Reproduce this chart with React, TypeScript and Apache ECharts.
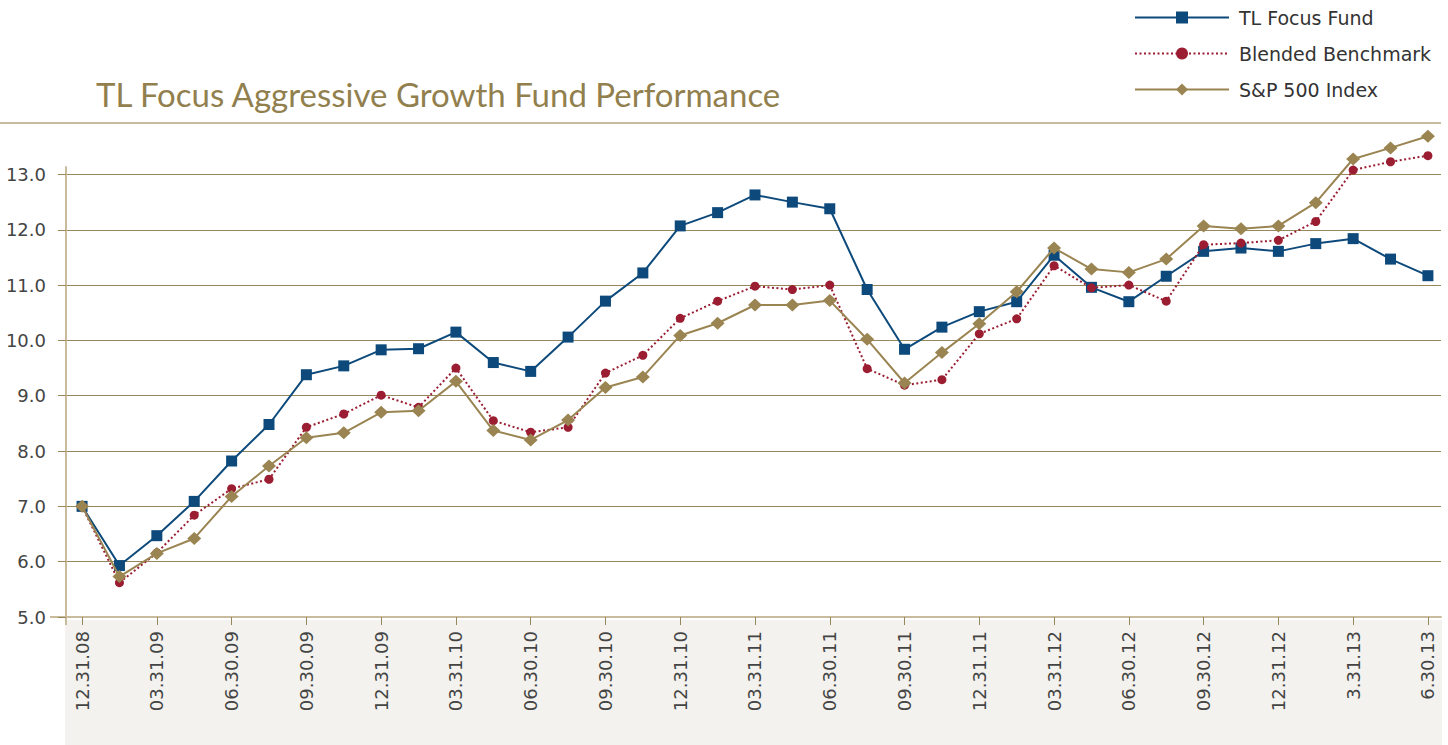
import React, { useEffect, useRef } from "react";
import * as echarts from "echarts";

const tickLabels = [
  "12.31.08", "03.31.09", "06.30.09", "09.30.09", "12.31.09", "03.31.10",
  "06.30.10", "09.30.10", "12.31.10", "03.31.11", "06.30.11", "09.30.11",
  "12.31.11", "03.31.12", "06.30.12", "09.30.12", "12.31.12", "3.31.13", "6.30.13",
];

const tlFocusFund = [
  7.0, 5.93, 6.47, 7.09, 7.82, 8.48, 9.38, 9.54, 9.83, 9.85, 10.15, 9.6, 9.44,
  10.06, 10.71, 11.22, 12.07, 12.31, 12.63, 12.5, 12.38, 10.92, 9.84, 10.24,
  10.52, 10.7, 11.54, 10.96, 10.7, 11.16, 11.61, 11.67, 11.61, 11.75, 11.84,
  11.47, 11.17,
];

const blendedBenchmark = [
  7.0, 5.62, 6.16, 6.84, 7.32, 7.49, 8.43, 8.67, 9.01, 8.79, 9.5, 8.55, 8.34,
  8.43, 9.41, 9.73, 10.4, 10.71, 10.98, 10.92, 11.0, 9.49, 9.19, 9.29, 10.12,
  10.39, 11.35, 10.95, 11.0, 10.71, 11.73, 11.76, 11.81, 12.15, 13.08, 13.23,
  13.34,
];

const sp500Index = [
  7.0, 5.73, 6.15, 6.42, 7.18, 7.73, 8.24, 8.33, 8.7, 8.73, 9.26, 8.37, 8.2,
  8.56, 9.15, 9.34, 10.09, 10.31, 10.64, 10.64, 10.72, 10.02, 9.23, 9.78, 10.3,
  10.88, 11.67, 11.29, 11.23, 11.47, 12.07, 12.02, 12.07, 12.49, 13.28, 13.48,
  13.69,
];

const yTicks = [5, 6, 7, 8, 9, 10, 11, 12, 13];

const BLUE = "#0d4a7b";
const RED = "#9b1d32";
const GOLD = "#9a8451";
const GRID = "#97875a";
const LIGHT = "#c9bc9c";
const FONT = "DejaVu Sans";

export default function App() {
  const ref = useRef<HTMLDivElement>(null);

  useEffect(() => {
    if (!ref.current) return;
    const chart = echarts.init(ref.current, undefined, { renderer: "svg" });
    const tickIdx = tickLabels.map((_, i) => i * 2);
    const toPairs = (arr: number[]) => arr.map((v, i) => [i, v]);

    chart.setOption({
      animation: false,
      backgroundColor: "#ffffff",
      title: {
        text: "TL Focus Aggressive Growth Fund Performance",
        left: 96,
        top: 77,
        padding: 0,
        textStyle: {
          fontFamily: "Lato",
          fontWeight: "normal",
          fontSize: 33,
          color: "#927f4e",
        },
      },
      legend: {
        orient: "vertical",
        left: 1134,
        top: 8,
        padding: 0,
        itemWidth: 94,
        itemHeight: 15,
        itemGap: 17,
        textStyle: { fontFamily: FONT, fontSize: 19, color: "#333", padding: [0, 0, 0, 5] },
        data: ["TL Focus Fund", "Blended Benchmark", "S&P 500 Index"],
      },
      graphic: [
        {
          type: "rect",
          z: -10,
          silent: true,
          shape: { x: 65, y: 620, width: 1377, height: 125 },
          style: { fill: "#f3f2ee" },
        },
        {
          type: "line",
          silent: true,
          shape: { x1: 0, y1: 123, x2: 1441, y2: 123 },
          style: { stroke: LIGHT, lineWidth: 2 },
        },
        {
          type: "line",
          silent: true,
          shape: { x1: 50, y1: 617, x2: 66, y2: 617 },
          style: { stroke: LIGHT, lineWidth: 2 },
        },
        {
          type: "line",
          silent: true,
          shape: { x1: 66, y1: 617, x2: 66, y2: 625 },
          style: { stroke: LIGHT, lineWidth: 2 },
        },
      ],
      grid: { left: 66, right: 7, top: 167, bottom: 128, containLabel: false },
      xAxis: {
        type: "value",
        min: -0.43,
        max: 36.35,
        axisLine: { show: true, onZero: false, lineStyle: { color: LIGHT, width: 2 } },
        axisTick: {
          show: true,
          customValues: tickIdx,
          length: 8,
          lineStyle: { color: GRID, width: 1 },
        },
        axisLabel: {
          customValues: tickIdx,
          rotate: 90,
          margin: 14,
          fontFamily: FONT,
          fontSize: 18,
          color: "#444",
          formatter: (v: number) => tickLabels[Math.round(v / 2)] ?? "",
        },
        splitLine: { show: false },
      },
      yAxis: {
        type: "value",
        min: 5,
        max: 13.135,
        axisLine: { show: true, onZero: false, lineStyle: { color: LIGHT, width: 2 } },
        axisTick: {
          show: true,
          customValues: yTicks,
          length: 8,
          lineStyle: { color: GRID, width: 1 },
        },
        axisLabel: {
          customValues: yTicks,
          margin: 20,
          fontFamily: FONT,
          fontSize: 18,
          color: "#444",
          formatter: (v: number) => v.toFixed(1),
        },
        splitLine: { show: true, lineStyle: { color: GRID, width: 1 } },
      },
      series: [
        {
          name: "TL Focus Fund",
          type: "line",
          data: toPairs(tlFocusFund),
          clip: false,
          symbol: "rect",
          symbolSize: 11,
          showAllSymbol: true,
          itemStyle: { color: BLUE },
          lineStyle: { color: BLUE, width: 2 },
          z: 3,
        },
        {
          name: "Blended Benchmark",
          type: "line",
          data: toPairs(blendedBenchmark),
          clip: false,
          symbol: "circle",
          symbolSize: 9,
          showAllSymbol: true,
          itemStyle: { color: RED },
          lineStyle: { color: RED, width: 2, type: [2, 2.5] },
          z: 4,
        },
        {
          name: "S&P 500 Index",
          type: "line",
          data: toPairs(sp500Index),
          clip: false,
          symbol: "diamond",
          symbolSize: [14, 13],
          showAllSymbol: true,
          itemStyle: { color: GOLD },
          lineStyle: { color: GOLD, width: 2 },
          z: 5,
        },
      ],
    });

    return () => chart.dispose();
  }, []);

  return (
    <div
      ref={ref}
      style={{ position: "fixed", left: 0, top: 0, width: 1448, height: 745 }}
    />
  );
}
